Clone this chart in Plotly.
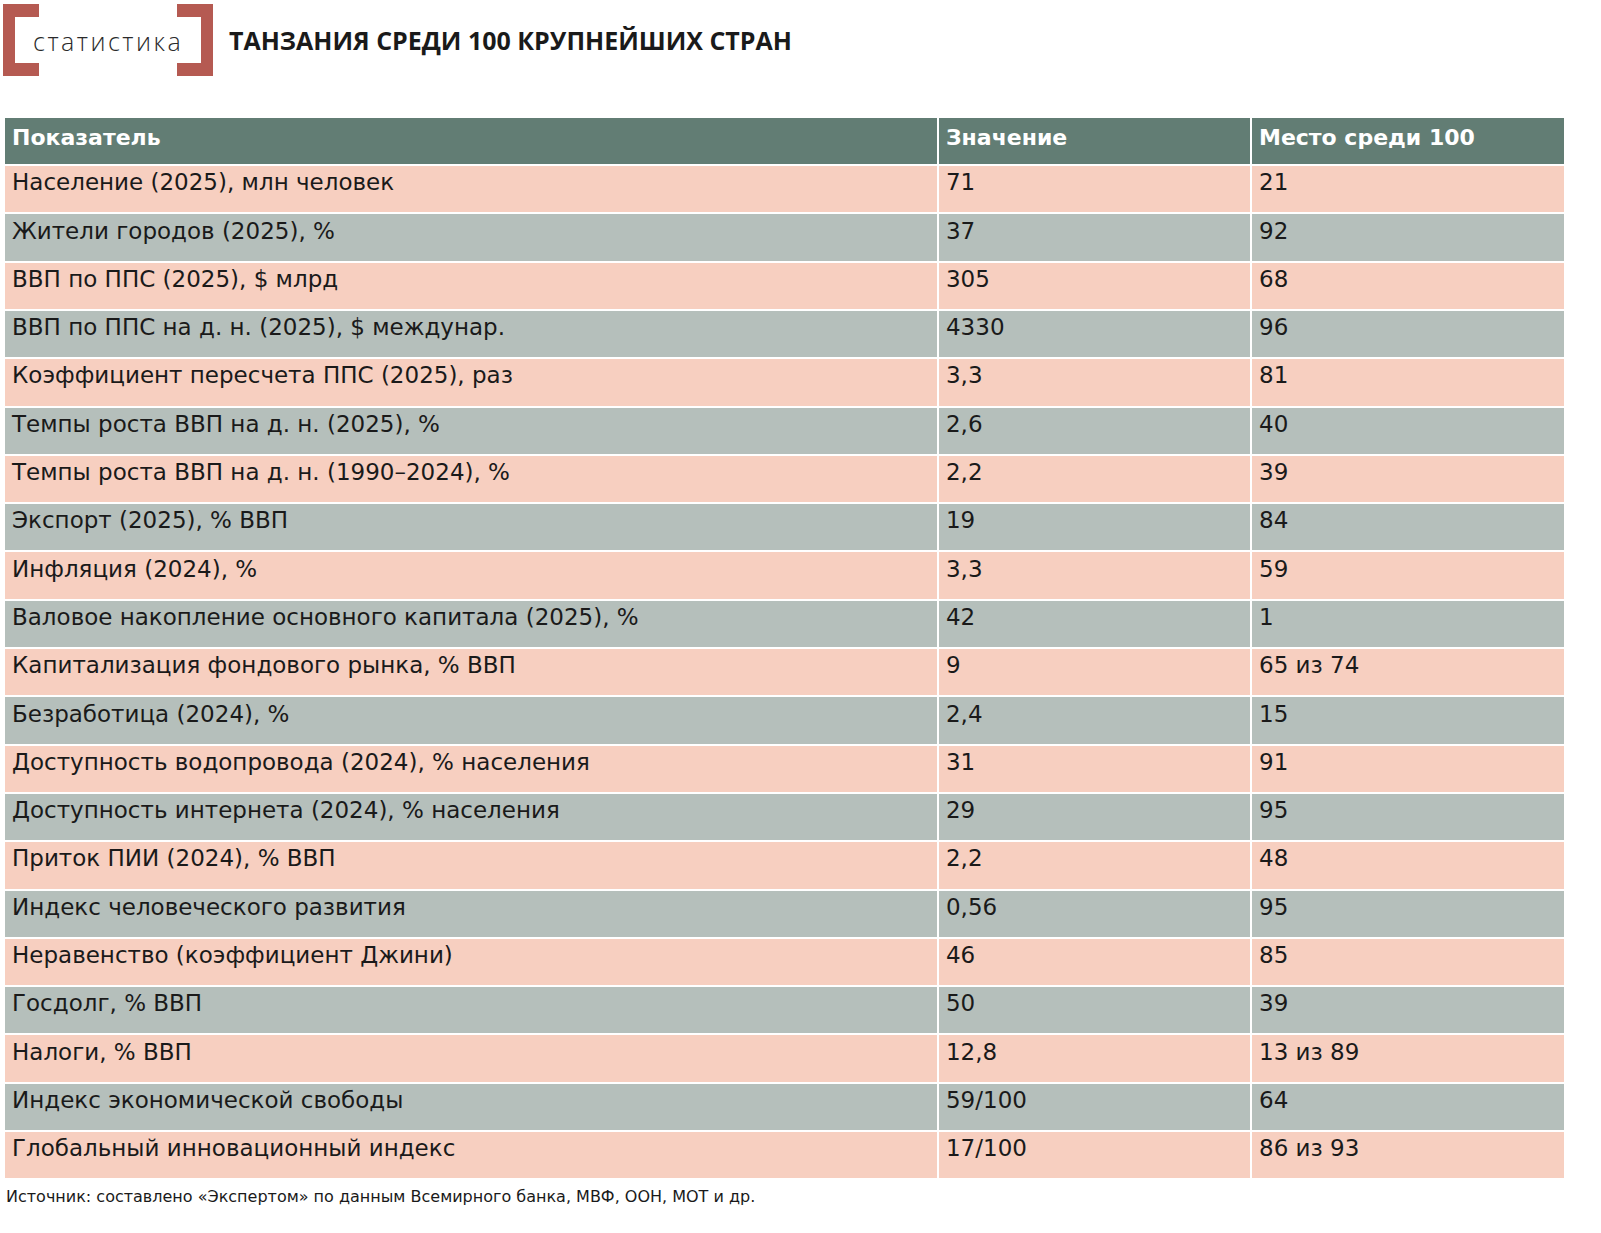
import plotly.graph_objects as go

W, H = 1601, 1233

# table data
indicators = [
    "Население (2025), млн человек",
    "Жители городов (2025), %",
    "ВВП по ППС (2025), $ млрд",
    "ВВП по ППС на д. н. (2025), $ междунар.",
    "Коэффициент пересчета ППС (2025), раз",
    "Темпы роста ВВП на д. н. (2025), %",
    "Темпы роста ВВП на д. н. (1990–2024), %",
    "Экспорт (2025), % ВВП",
    "Инфляция (2024), %",
    "Валовое накопление основного капитала (2025), %",
    "Капитализация фондового рынка, % ВВП",
    "Безработица (2024), %",
    "Доступность водопровода (2024), % населения",
    "Доступность интернета (2024), % населения",
    "Приток ПИИ (2024), % ВВП",
    "Индекс человеческого развития",
    "Неравенство (коэффициент Джини)",
    "Госдолг, % ВВП",
    "Налоги, % ВВП",
    "Индекс экономической свободы",
    "Глобальный инновационный индекс",
]
values = ["71", "37", "305", "4330", "3,3", "2,6", "2,2", "19", "3,3", "42", "9",
          "2,4", "31", "29", "2,2", "0,56", "46", "50", "12,8", "59/100", "17/100"]
ranks = ["21", "92", "68", "96", "81", "40", "39", "84", "59", "1", "65 из 74",
         "15", "91", "95", "48", "95", "85", "39", "13 из 89", "64", "86 из 93"]
headers = ["Показатель", "Значение", "Место среди 100"]

peach = "#F7CFC0"
grey = "#B5BFBB"
head_col = "#627D74"
brick = "#B55A52"
ink = "#1a1a1a"

row_colors = [peach if i % 2 == 0 else grey for i in range(len(indicators))]

fig = go.Figure()
fig.add_trace(go.Table(
    domain=dict(x=[4 / W, 1565 / W], y=[0, 1 - 117 / H]),
    columnwidth=[931, 312, 313],
    header=dict(
        values=["<b>" + h + "</b>" for h in headers],
        fill_color=head_col,
        line=dict(color="white", width=2),
        align="left",
        height=48,
        font=dict(family="DejaVu Sans", size=22, color="white"),
    ),
    cells=dict(
        values=[indicators, values, ranks],
        fill_color=[row_colors] * 3,
        line=dict(color="white", width=2),
        align="left",
        height=48.3,
        font=dict(family="DejaVu Sans", size=23, color=ink),
    ),
))


def px(x):
    return x / W


def py(y):
    return 1 - y / H


# logo brackets
def box(x0, x1, y0, y1):
    return dict(type="rect", xref="paper", yref="paper",
                x0=px(x0), x1=px(x1), y0=py(y1), y1=py(y0),
                fillcolor=brick, line_width=0)


shapes = [
    box(3, 15, 4, 76), box(3, 39, 4, 17), box(3, 39, 63, 76),
    box(201, 213, 4, 76), box(177, 213, 4, 17), box(177, 213, 63, 76),
]

hair = "\u200a"
logo = hair.join("статистика")

fig.update_layout(
    width=W, height=H,
    margin=dict(l=0, r=0, t=0, b=0),
    paper_bgcolor="white",
    shapes=shapes,
    annotations=[
        dict(text=logo, x=px(107), y=py(41), xref="paper", yref="paper",
             showarrow=False, xanchor="center", yanchor="middle",
             font=dict(family="Open Sans", size=25, color="#2a2a2a", weight=300)),
        dict(text="<b>ТАНЗАНИЯ СРЕДИ 100 КРУПНЕЙШИХ СТРАН</b>", x=px(227), y=py(40),
             xref="paper", yref="paper", showarrow=False, xanchor="left", yanchor="middle",
             font=dict(family="Open Sans", size=25, color=ink)),
        dict(text="Источник: составлено «Экспертом» по данным Всемирного банка, МВФ, ООН, МОТ и др.",
             x=px(4), y=py(1196), xref="paper", yref="paper", showarrow=False,
             xanchor="left", yanchor="middle",
             font=dict(family="DejaVu Sans", size=16, color=ink)),
    ],
)

fig.write_html(
    "out.html",
    config={"displayModeBar": False},
    post_script="document.body.style.margin='0';document.body.style.overflow='hidden';",
)
